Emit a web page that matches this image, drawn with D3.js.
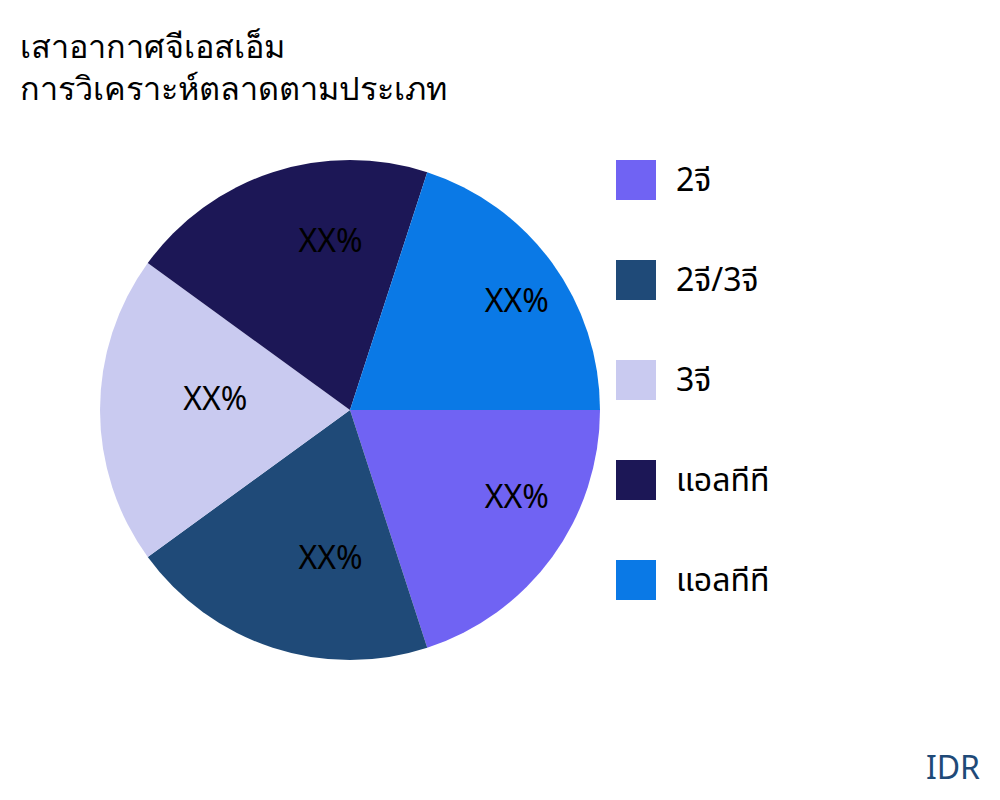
<!DOCTYPE html>
<html><head><meta charset="utf-8">
<script src="https://cdn.jsdelivr.net/npm/d3@7"></script>
<style>body{margin:0;background:#fff;} svg{font-family:"Noto Sans","Noto Sans Thai",sans-serif;} .title{font-family:"Noto Sans",sans-serif;}</style>
</head><body>
<svg id="c" width="1000" height="800"></svg>
<script>
const titleLines = ["เสาอากาศจีเอสเอ็ม", "การวิเคราะห์ตลาดตามประเภท"];
const categories = ["2จี", "2จี/3จี", "3จี", "แอลทีที", "แอลทีที"];
const values = [20, 20, 20, 20, 20];
const labels = ["XX%", "XX%", "XX%", "XX%", "XX%"];
const colors = ["#7063F3", "#1F4A78", "#C9CAF0", "#1C1756", "#0A79E6"];
const source = "IDR";

const svg = d3.select("#c");
svg.append("rect").attr("width",1000).attr("height",800).attr("fill","#fff");

svg.selectAll("text.title").data(titleLines).enter().append("text").attr("class","title")
  .attr("x",20).attr("y",(d,i)=>57.5+i*42).attr("font-size",32.4).attr("fill","#000").text(d=>d);

const cx=350, cy=410, R=250;
const pie = d3.pie().sort(null).value(d=>d).startAngle(Math.PI/2).endAngle(Math.PI/2+2*Math.PI);
const arcs = pie(values);
const arc = d3.arc().innerRadius(0).outerRadius(R);
const labelArc = d3.arc().innerRadius(R*2/3).outerRadius(R*2/3);
const g = svg.append("g").attr("transform",`translate(${cx},${cy})`);
g.selectAll("path").data(arcs).enter().append("path").attr("d",arc).attr("fill",(d,i)=>colors[i]);
g.selectAll("text").data(arcs).enter().append("text")
  .attr("x",d=>labelArc.centroid(d)[0]).attr("y",d=>labelArc.centroid(d)[1])
  .attr("font-size",32).attr("fill","#000").text((d,i)=>labels[i]);

const leg = svg.append("g");
const ly = d3.scaleBand().domain(d3.range(categories.length)).range([160,660]);
leg.selectAll("rect").data(categories).enter().append("rect")
  .attr("x",616).attr("y",(d,i)=>ly(i)).attr("width",40).attr("height",40).attr("fill",(d,i)=>colors[i]);
leg.selectAll("text").data(categories).enter().append("text")
  .attr("x",676).attr("y",(d,i)=>ly(i)+31).attr("font-size",32).attr("fill","#000").text(d=>d);

svg.append("text").attr("x",980).attr("y",779).attr("text-anchor","end")
  .attr("font-size",32).attr("fill","#1F4A78").text(source);
</script>
</body></html>
